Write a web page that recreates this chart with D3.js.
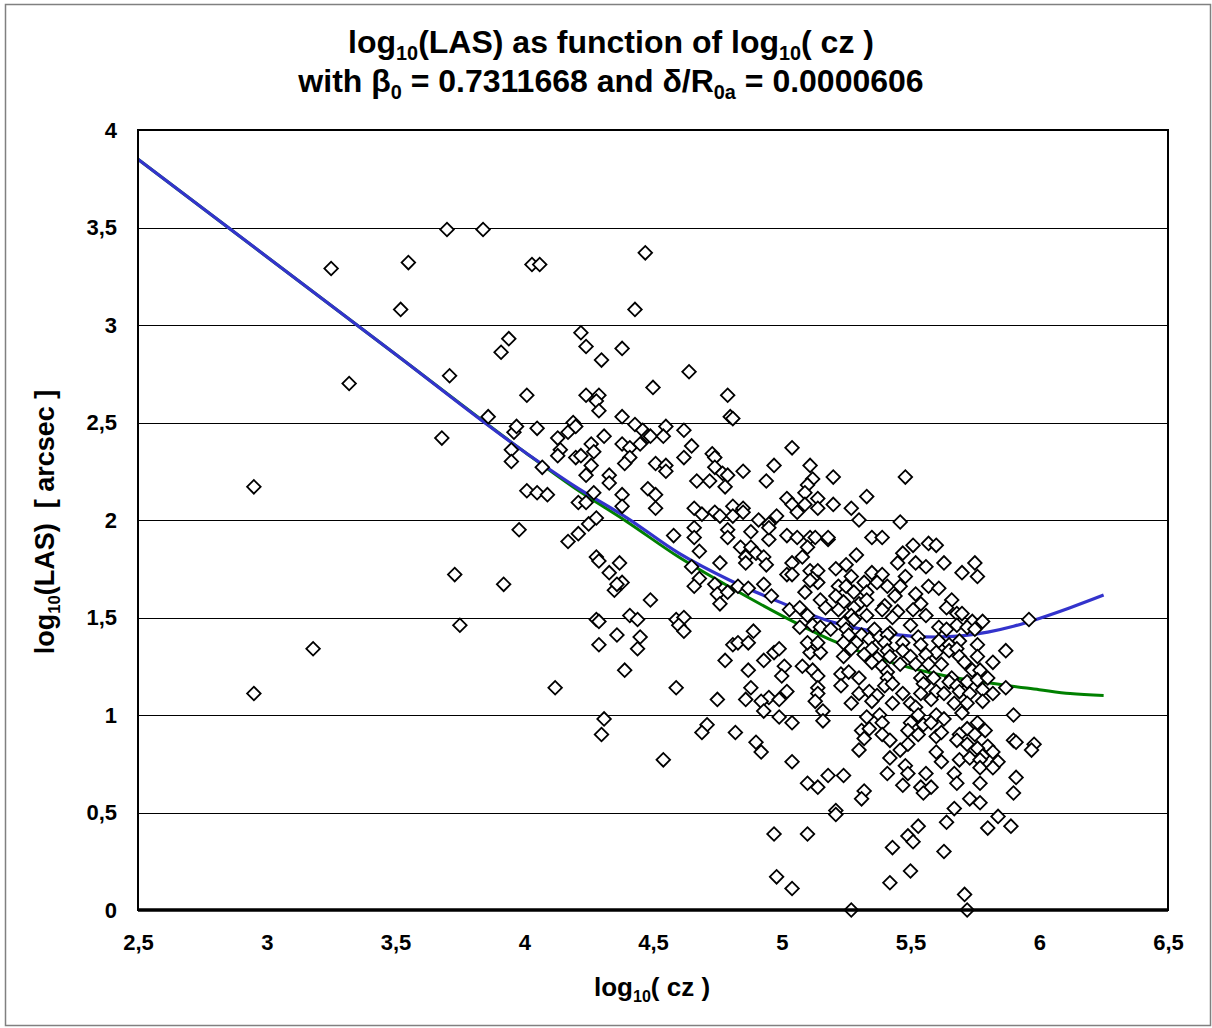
<!DOCTYPE html>
<html>
<head>
<meta charset="utf-8">
<script src="https://cdn.jsdelivr.net/npm/d3@7"></script>
<style>
  body { margin: 0; background: #fff; }
  text { font-family: "Liberation Sans", Arial, sans-serif; font-weight: bold; fill: #000; }
</style>
</head>
<body>
<div id="chart"></div>
<script>
// Scatter data: log10(cz) and log10(LAS)
const logCz = [
  2.95,2.95,3.18,3.25,3.32,3.52,3.55,3.68,3.70,3.71,3.73,3.75,3.84,3.86,3.91,3.92,3.94,3.95,3.95,3.96,
  3.97,3.98,4.01,4.01,4.03,4.06,4.05,4.05,4.07,4.09,4.12,4.13,4.14,4.13,4.17,4.19,4.20,4.21,4.17,4.21,
  4.22,4.24,4.38,4.30,4.47,4.43,4.64,4.50,4.79,4.24,4.29,4.28,4.29,4.38,4.80,4.81,4.20,4.43,4.46,4.55,
  4.62,4.31,4.48,4.49,4.54,4.38,4.26,4.27,4.22,4.41,4.41,4.45,4.65,4.62,4.73,4.74,5.04,4.39,4.51,4.55,
  4.55,4.26,4.74,4.77,4.85,4.97,5.11,4.79,4.24,4.33,4.33,4.67,4.72,4.78,4.94,5.12,5.10,4.27,4.38,4.48,
  4.51,5.09,5.14,5.02,5.04,4.24,4.38,4.51,4.66,4.69,4.74,4.76,4.81,4.85,4.85,4.81,4.91,4.95,4.98,5.06,
  5.09,5.14,4.25,4.28,4.66,4.66,4.58,4.79,4.79,4.88,4.95,4.95,5.02,5.06,5.11,5.13,5.18,4.84,4.88,4.90,
  4.86,4.93,4.94,5.10,5.08,5.04,5.02,5.04,5.11,5.14,5.14,5.12,4.28,4.29,4.37,4.33,4.38,4.35,4.36,4.68,
  4.65,4.76,4.68,4.66,4.74,4.75,4.79,4.83,4.87,4.93,4.96,5.09,4.49,4.76,4.86,5.03,5.07,5.10,5.07,5.12,
  5.15,5.15,5.11,5.11,5.15,5.10,5.14,5.08,5.12,5.14,5.14,5.14,5.13,5.16,5.16,4.28,4.29,4.41,4.44,4.59,
  4.62,4.60,4.62,4.36,4.45,4.44,4.29,4.39,4.59,4.81,4.83,4.87,4.89,4.78,4.87,4.93,4.97,4.99,5.01,5.00,
  4.88,4.95,5.02,4.75,4.86,4.92,4.99,4.93,4.99,5.04,4.31,4.30,4.71,4.69,4.82,4.90,4.92,4.54,5.04,5.10,
  5.14,5.18,4.97,5.10,4.98,5.04,5.20,5.48,5.33,5.27,5.30,5.46,5.20,5.18,5.35,5.39,5.51,5.57,5.60,5.29,
  5.47,5.45,5.52,5.56,5.63,5.75,5.70,5.76,5.21,5.25,5.27,5.35,5.39,5.48,5.32,5.37,5.22,5.25,5.28,5.33,
  5.41,5.46,5.57,5.61,5.44,5.52,5.21,5.24,5.30,5.33,5.40,5.54,5.66,5.17,5.22,5.28,5.39,5.45,5.51,5.64,
  5.68,5.70,5.27,5.33,5.43,5.56,5.74,5.78,5.96,5.24,5.28,5.50,5.61,5.68,5.72,5.75,5.19,5.25,5.36,5.42,
  5.64,5.26,5.31,5.34,5.38,5.41,5.53,5.61,5.69,5.24,5.29,5.40,5.47,5.54,5.65,5.76,5.27,5.35,5.41,5.47,
  5.60,5.65,5.68,5.87,5.24,5.32,5.37,5.42,5.50,5.56,5.69,5.76,5.35,5.52,5.57,5.62,5.71,5.82,5.39,5.46,
  5.23,5.26,5.30,5.41,5.41,5.54,5.59,5.66,5.74,5.77,5.23,5.40,5.43,5.55,5.65,5.68,5.72,5.76,5.80,5.87,
  5.30,5.34,5.37,5.47,5.54,5.60,5.63,5.69,5.73,5.78,5.82,5.27,5.35,5.43,5.50,5.58,5.67,5.72,5.52,5.78,
  5.90,5.33,5.38,5.53,5.60,5.63,5.70,5.50,5.39,5.55,5.58,5.72,5.76,5.79,5.31,5.34,5.49,5.53,5.60,5.62,
  5.39,5.69,5.68,5.32,5.42,5.75,5.90,5.91,5.98,5.97,5.72,5.80,5.76,5.46,5.49,5.30,5.60,5.82,5.78,5.42,
  5.62,5.69,5.73,5.77,5.84,5.77,5.82,5.48,5.24,5.41,5.49,5.56,5.67,5.91,5.77,5.68,5.47,5.54,5.58,5.55,
  5.32,5.31,5.90,5.73,5.77,5.21,5.21,5.67,5.84,5.64,5.89,5.80,5.53,5.49,5.51,5.43,5.63,5.50,5.42,5.71,
  5.27,5.72
];
const logLas = [
  2.17,1.11,1.34,3.29,2.70,3.08,3.32,2.42,3.49,2.74,1.72,1.46,3.49,2.53,2.86,1.67,2.93,2.36,2.30,2.45,
  2.48,1.95,2.64,2.15,3.31,3.31,2.47,2.14,2.27,2.13,1.14,2.42,2.36,2.33,2.45,2.50,2.32,2.09,1.89,1.93,
  2.96,2.89,2.88,2.82,3.37,3.08,2.76,2.68,2.64,2.64,2.64,2.61,2.56,2.53,2.53,2.52,2.48,2.49,2.46,2.48,
  2.46,2.43,2.43,2.43,2.43,2.39,2.39,2.35,2.33,2.37,2.32,2.39,2.38,2.32,2.34,2.32,2.37,2.29,2.29,2.28,
  2.25,2.28,2.27,2.24,2.25,2.28,2.28,2.23,2.23,2.23,2.19,2.20,2.20,2.17,2.20,2.21,2.18,2.14,2.13,2.16,
  2.13,2.14,2.11,2.11,2.08,2.09,2.07,2.06,2.06,2.03,2.04,2.02,2.07,2.06,2.04,2.02,2.00,1.98,2.02,2.04,
  2.08,2.06,1.98,2.01,1.96,1.91,1.92,1.95,1.91,1.94,1.90,1.96,1.92,1.91,1.91,1.91,1.90,1.86,1.86,1.83,
  1.81,1.81,1.77,1.86,1.81,1.78,1.72,1.72,1.74,1.74,1.68,1.70,1.81,1.79,1.78,1.73,1.68,1.64,1.67,1.84,
  1.76,1.78,1.70,1.66,1.67,1.62,1.63,1.66,1.65,1.67,1.61,1.63,1.59,1.57,1.78,1.54,1.55,1.51,1.45,1.46,
  1.45,1.59,1.69,1.32,1.32,1.37,1.37,1.25,1.23,1.20,1.14,1.11,1.07,1.02,0.97,1.49,1.48,1.51,1.49,1.49,
  1.50,1.46,1.43,1.41,1.40,1.34,1.36,1.23,1.14,1.36,1.37,1.37,1.43,1.28,1.23,1.28,1.32,1.34,1.25,1.20,
  1.14,1.09,1.12,1.08,1.08,1.07,1.08,1.02,0.99,0.96,0.98,0.90,0.95,0.91,0.91,0.86,0.81,0.77,0.76,0.65,
  0.63,0.69,0.39,0.39,0.17,0.11,2.22,2.22,2.12,2.06,2.00,1.99,2.08,1.91,1.91,1.91,1.87,1.88,1.87,1.82,
  1.83,1.78,1.78,1.76,1.78,1.78,1.73,1.71,1.75,1.77,1.71,1.73,1.72,1.71,1.68,1.68,1.66,1.66,1.63,1.63,
  1.66,1.66,1.66,1.65,1.61,1.62,1.61,1.58,1.57,1.59,1.56,1.57,1.59,1.55,1.54,1.55,1.54,1.53,1.54,1.55,
  1.52,1.52,1.51,1.51,1.50,1.51,1.48,1.48,1.49,1.47,1.49,1.46,1.45,1.46,1.45,1.44,1.44,1.44,1.44,1.42,
  1.44,1.41,1.41,1.39,1.40,1.41,1.40,1.38,1.38,1.37,1.37,1.37,1.37,1.36,1.36,1.36,1.34,1.34,1.33,1.33,
  1.32,1.33,1.34,1.33,1.30,1.31,1.29,1.30,1.30,1.31,1.30,1.30,1.27,1.26,1.26,1.26,1.27,1.27,1.25,1.26,
  1.21,1.22,1.19,1.22,1.19,1.19,1.19,1.19,1.23,1.23,1.15,1.15,1.16,1.16,1.17,1.15,1.17,1.18,1.19,1.14,
  1.11,1.12,1.10,1.11,1.11,1.12,1.11,1.12,1.11,1.13,1.11,1.06,1.07,1.06,1.06,1.08,1.06,1.06,1.04,1.07,
  1.00,0.99,1.00,1.00,1.00,0.98,1.01,0.96,0.96,0.95,0.96,0.93,0.96,0.92,0.92,0.93,0.92,0.90,0.89,0.91,
  0.90,0.90,0.87,0.88,0.87,0.90,0.87,0.86,0.85,0.82,0.85,0.84,0.83,0.82,0.85,0.82,0.81,0.81,0.79,0.78,
  0.76,0.77,0.78,0.77,0.76,0.73,0.73,0.74,0.69,0.70,0.70,0.70,0.70,0.68,0.65,0.65,0.64,0.63,0.63,0.60,
  0.61,0.57,0.60,0.57,0.55,0.51,0.49,0.52,0.48,0.45,0.43,0.42,0.43,0.38,0.35,0.32,0.30,0.20,0.14,0.08,
  0.00,0.00
];

// Fitted model curves
const blueX = [2.5, 3.0, 3.5, 4.0, 4.2, 4.4, 4.6, 4.8, 5.0, 5.2, 5.4, 5.6, 5.8, 5.9, 6.0, 6.12, 6.25];
const blueY = [3.85, 3.35, 2.85, 2.35, 2.17, 2.01, 1.83, 1.69, 1.575, 1.475, 1.42, 1.40, 1.425, 1.455, 1.495, 1.55, 1.615];
const greenX = [2.5, 3.0, 3.5, 4.0, 4.2, 4.4, 4.6, 4.8, 5.0, 5.2, 5.4, 5.6, 5.8, 6.0, 6.12, 6.25];
const greenY = [3.85, 3.35, 2.85, 2.35, 2.16, 1.99, 1.81, 1.655, 1.51, 1.38, 1.28, 1.21, 1.165, 1.13, 1.11, 1.10];

const xTicks = [2.5, 3, 3.5, 4, 4.5, 5, 5.5, 6, 6.5];
const yTicks = [0, 0.5, 1, 1.5, 2, 2.5, 3, 3.5, 4];

const W = 1212, H = 1028;
const plot = { left: 138, right: 1168, top: 130, bottom: 910 };

const fmt = d => String(d).replace(".", ",");

const svg = d3.select("#chart").append("svg")
  .attr("width", W)
  .attr("height", H);

// outer chart border
svg.append("rect")
  .attr("x", 5.5).attr("y", 4.5)
  .attr("width", W - 7).attr("height", H - 7)
  .attr("fill", "#fff")
  .attr("stroke", "#808080")
  .attr("stroke-width", 1.5);

const x = d3.scaleLinear().domain([2.5, 6.5]).range([plot.left, plot.right]);
const y = d3.scaleLinear().domain([0, 4]).range([plot.bottom, plot.top]);

// gridlines
svg.append("g")
  .selectAll("line")
  .data(yTicks.filter(d => d > 0 && d < 4))
  .join("line")
  .attr("x1", plot.left).attr("x2", plot.right)
  .attr("y1", d => Math.round(y(d)) + 0.5)
  .attr("y2", d => Math.round(y(d)) + 0.5)
  .attr("stroke", "#000")
  .attr("stroke-width", 1);

// axes (labels only, no tick marks)
const xAxis = svg.append("g")
  .attr("transform", `translate(0,${plot.bottom})`)
  .call(d3.axisBottom(x).tickValues(xTicks).tickSize(0).tickPadding(24).tickFormat(fmt));
xAxis.attr("font-size", 22).attr("font-family", null);
xAxis.select(".domain").remove();

const yAxis = svg.append("g")
  .attr("transform", `translate(${plot.left},0)`)
  .call(d3.axisLeft(y).tickValues(yTicks).tickSize(0).tickPadding(21).tickFormat(fmt));
yAxis.attr("font-size", 22).attr("font-family", null);
yAxis.select(".domain").remove();

// curves
const line = (xs, ys) => d3.line()
  .x((d, i) => x(xs[i]))
  .y((d, i) => y(ys[i]))
  .curve(d3.curveMonotoneX)(xs);

svg.append("path")
  .attr("d", line(greenX, greenY))
  .attr("fill", "none")
  .attr("stroke", "#008000")
  .attr("stroke-width", 3);

svg.append("path")
  .attr("d", line(blueX, blueY))
  .attr("fill", "none")
  .attr("stroke", "#3333cc")
  .attr("stroke-width", 3.2);

// diamond markers
const diamond = d3.symbol().type(d3.symbolSquare).size(92);
svg.append("g")
  .selectAll("path")
  .data(logCz.map((d, i) => [d, logLas[i]]))
  .join("path")
  .attr("d", diamond)
  .attr("transform", d => `translate(${x(d[0])},${y(d[1])}) rotate(45)`)
  .attr("fill", "#fff")
  .attr("stroke", "#000")
  .attr("stroke-width", 1.8);

// plot frame
svg.append("rect")
  .attr("x", plot.left).attr("y", plot.top)
  .attr("width", plot.right - plot.left)
  .attr("height", plot.bottom - plot.top)
  .attr("fill", "none")
  .attr("stroke", "#000")
  .attr("stroke-width", 2);
svg.append("line")
  .attr("x1", plot.left).attr("x2", plot.right)
  .attr("y1", plot.bottom).attr("y2", plot.bottom)
  .attr("stroke", "#000")
  .attr("stroke-width", 3.5);

// text with subscripts: a sub part drops, the next part comes back up
function subText(sel, parts, size) {
  let shift = 0;
  parts.forEach(p => {
    const ts = sel.append("tspan");
    if (p.sub) {
      ts.attr("font-size", size * 0.62).attr("dy", size * 0.22).text(p.sub);
      shift = size * 0.22;
    } else {
      ts.attr("font-size", size).text(p.t);
      if (shift) ts.attr("dy", -shift);
      shift = 0;
    }
  });
}

const t1 = svg.append("text").attr("x", 611).attr("y", 53).attr("text-anchor", "middle");
subText(t1, [{ t: "log" }, { sub: "10" }, { t: "(LAS) as function of log" }, { sub: "10" }, { t: "( cz )" }], 32);

const t2 = svg.append("text").attr("x", 611).attr("y", 92).attr("text-anchor", "middle");
subText(t2, [{ t: "with \u03B2" }, { sub: "0" }, { t: " = 0.7311668 and \u03B4/R" }, { sub: "0a" }, { t: " = 0.0000606" }], 32);

const xt = svg.append("text").attr("x", 652).attr("y", 996).attr("text-anchor", "middle");
subText(xt, [{ t: "log" }, { sub: "10" }, { t: "( cz )" }], 26);

const yt = svg.append("text")
  .attr("transform", "translate(54,522) rotate(-90)")
  .attr("text-anchor", "middle")
  .attr("xml:space", "preserve");
subText(yt, [{ t: "log" }, { sub: "10" }, { t: "(LAS)  [ arcsec ]" }], 27);
</script>
</body>
</html>
